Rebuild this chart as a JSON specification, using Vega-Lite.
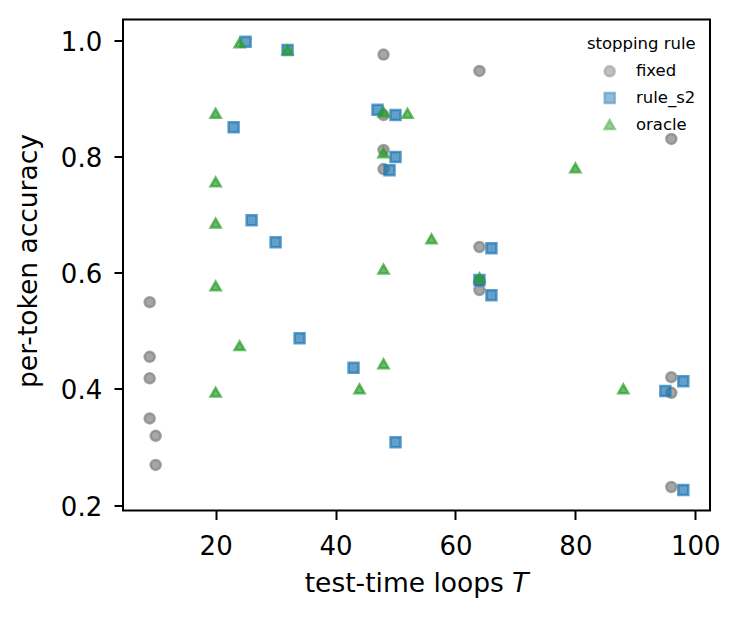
{
  "$schema": "https://vega.github.io/schema/vega-lite/v6.json",
  "width": 587,
  "height": 491,
  "autosize": {"type": "none"},
  "padding": {"left": 123, "top": 19.5, "right": 33, "bottom": 112.5},
  "background": "white",
  "data": {
    "values": [
      {"T": 9, "acc": 0.549, "rule": "fixed"},
      {"T": 9, "acc": 0.455, "rule": "fixed"},
      {"T": 9, "acc": 0.418, "rule": "fixed"},
      {"T": 9, "acc": 0.349, "rule": "fixed"},
      {"T": 10, "acc": 0.319, "rule": "fixed"},
      {"T": 10, "acc": 0.269, "rule": "fixed"},
      {"T": 48, "acc": 0.975, "rule": "fixed"},
      {"T": 48, "acc": 0.871, "rule": "fixed"},
      {"T": 48, "acc": 0.811, "rule": "fixed"},
      {"T": 48, "acc": 0.778, "rule": "fixed"},
      {"T": 64, "acc": 0.947, "rule": "fixed"},
      {"T": 64, "acc": 0.644, "rule": "fixed"},
      {"T": 64, "acc": 0.585, "rule": "fixed"},
      {"T": 64, "acc": 0.570, "rule": "fixed"},
      {"T": 96, "acc": 0.830, "rule": "fixed"},
      {"T": 96, "acc": 0.420, "rule": "fixed"},
      {"T": 96, "acc": 0.393, "rule": "fixed"},
      {"T": 96, "acc": 0.231, "rule": "fixed"},
      {"T": 25, "acc": 0.997, "rule": "rule_s2"},
      {"T": 32, "acc": 0.983, "rule": "rule_s2"},
      {"T": 23, "acc": 0.850, "rule": "rule_s2"},
      {"T": 47, "acc": 0.880, "rule": "rule_s2"},
      {"T": 50, "acc": 0.871, "rule": "rule_s2"},
      {"T": 50, "acc": 0.799, "rule": "rule_s2"},
      {"T": 49, "acc": 0.776, "rule": "rule_s2"},
      {"T": 26, "acc": 0.690, "rule": "rule_s2"},
      {"T": 30, "acc": 0.652, "rule": "rule_s2"},
      {"T": 34, "acc": 0.487, "rule": "rule_s2"},
      {"T": 43, "acc": 0.436, "rule": "rule_s2"},
      {"T": 50, "acc": 0.308, "rule": "rule_s2"},
      {"T": 66, "acc": 0.642, "rule": "rule_s2"},
      {"T": 64, "acc": 0.587, "rule": "rule_s2"},
      {"T": 66, "acc": 0.561, "rule": "rule_s2"},
      {"T": 98, "acc": 0.413, "rule": "rule_s2"},
      {"T": 95, "acc": 0.396, "rule": "rule_s2"},
      {"T": 98, "acc": 0.226, "rule": "rule_s2"},
      {"T": 24, "acc": 0.995, "rule": "oracle"},
      {"T": 32, "acc": 0.983, "rule": "oracle"},
      {"T": 20, "acc": 0.874, "rule": "oracle"},
      {"T": 20, "acc": 0.756, "rule": "oracle"},
      {"T": 20, "acc": 0.685, "rule": "oracle"},
      {"T": 48, "acc": 0.876, "rule": "oracle"},
      {"T": 52, "acc": 0.874, "rule": "oracle"},
      {"T": 48, "acc": 0.806, "rule": "oracle"},
      {"T": 80, "acc": 0.780, "rule": "oracle"},
      {"T": 56, "acc": 0.658, "rule": "oracle"},
      {"T": 48, "acc": 0.606, "rule": "oracle"},
      {"T": 20, "acc": 0.577, "rule": "oracle"},
      {"T": 24, "acc": 0.474, "rule": "oracle"},
      {"T": 20, "acc": 0.394, "rule": "oracle"},
      {"T": 48, "acc": 0.443, "rule": "oracle"},
      {"T": 44, "acc": 0.400, "rule": "oracle"},
      {"T": 64, "acc": 0.591, "rule": "oracle"},
      {"T": 88, "acc": 0.400, "rule": "oracle"}
    ]
  },
  "mark": {
    "type": "point",
    "filled": true,
    "size": 100,
    "strokeWidth": 2.5,
    "fillOpacity": 0.7,
    "strokeOpacity": 0.7
  },
  "encoding": {
    "x": {
      "field": "T",
      "type": "quantitative",
      "scale": {"domain": [4.55, 102.45], "zero": false, "nice": false},
      "axis": {
        "title": "test-time loops 𝘛",
        "values": [20, 40, 60, 80, 100],
        "labelBaseline": "alphabetic",
        "labelPadding": 34.8,
        "titleBaseline": "alphabetic",
        "titleY": 80.5
      }
    },
    "y": {
      "field": "acc",
      "type": "quantitative",
      "scale": {"domain": [0.1906, 1.0354], "zero": false, "nice": false},
      "axis": {
        "title": "per-token accuracy",
        "values": [0.2, 0.4, 0.6, 0.8, 1.0],
        "format": ".1f",
        "labelBaseline": "alphabetic",
        "labelOffset": 10,
        "labelPadding": 12.3,
        "titleAngle": -90,
        "titleAlign": "center",
        "titleBaseline": "alphabetic",
        "titleX": -86.5,
        "titleY": 241
      }
    },
    "fill": {
      "field": "rule",
      "type": "nominal",
      "scale": {"domain": ["fixed", "rule_s2", "oracle"], "range": ["#808080", "#1f77b4", "#2ca02c"]},
      "legend": {
        "title": "stopping rule",
        "symbolOpacity": 0.7,
        "encode": {
          "symbols": {
            "update": {
              "fillOpacity": {"value": 0.7},
              "strokeOpacity": {"value": 0.7}
            }
          }
        }
      }
    },
    "stroke": {
      "field": "rule",
      "type": "nominal",
      "scale": {"domain": ["fixed", "rule_s2", "oracle"], "range": ["#808080", "#1f77b4", "#2ca02c"]},
      "legend": {
        "title": "stopping rule",
        "symbolOpacity": 0.7,
        "encode": {
          "symbols": {
            "update": {
              "fillOpacity": {"value": 0.7},
              "strokeOpacity": {"value": 0.7}
            }
          }
        }
      }
    },
    "shape": {
      "field": "rule",
      "type": "nominal",
      "scale": {"domain": ["fixed", "rule_s2", "oracle"], "range": ["circle", "square", "triangle-up"]},
      "legend": {
        "title": "stopping rule",
        "symbolOpacity": 0.7,
        "encode": {
          "symbols": {
            "update": {
              "fillOpacity": {"value": 0.7},
              "strokeOpacity": {"value": 0.7}
            }
          }
        }
      }
    }
  },
  "config": {
    "font": "DejaVu Sans",
    "view": {"stroke": "black", "strokeWidth": 2},
    "axis": {
      "grid": false,
      "domain": false,
      "ticks": true,
      "tickSize": 9,
      "tickWidth": 2,
      "tickColor": "black",
      "labelColor": "black",
      "labelFont": "DejaVu Sans",
      "labelFontSize": 26,
      "titleColor": "black",
      "titleFont": "DejaVu Sans",
      "titleFontSize": 26.5,
      "titleFontWeight": "normal"
    },
    "legend": {
      "orient": "none",
      "legendX": 464.35,
      "legendY": 16.5,
      "padding": 0,
      "titleAnchor": "middle",
      "titleFont": "DejaVu Sans",
      "titleFontSize": 16.5,
      "titleFontWeight": "normal",
      "titleColor": "black",
      "titlePadding": 10.6,
      "labelFont": "DejaVu Sans",
      "labelFontSize": 16.5,
      "labelColor": "black",
      "symbolSize": 100,
      "symbolStrokeWidth": 2.5,
      "symbolOffset": 13.1,
      "labelOffset": 18,
      "rowPadding": 5.6
    }
  }
}
